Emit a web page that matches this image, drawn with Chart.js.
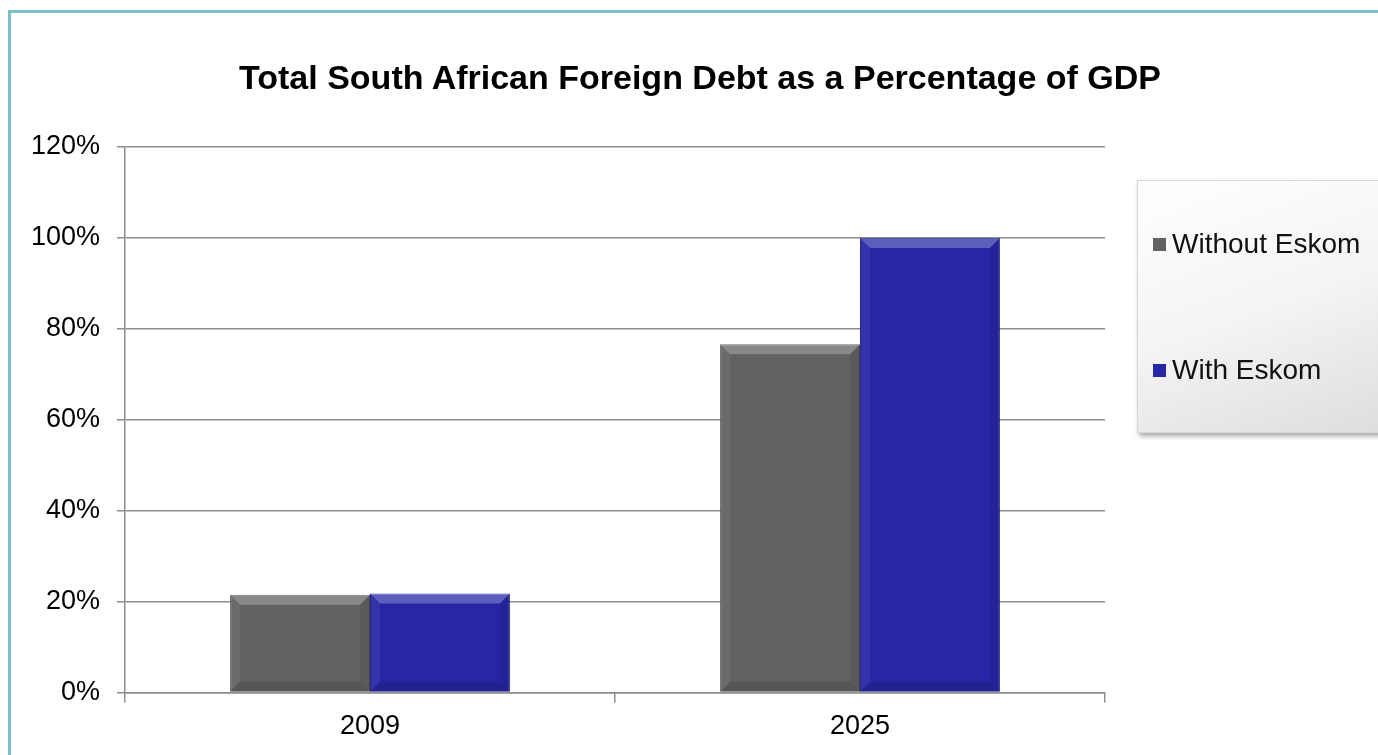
<!DOCTYPE html>
<html>
<head>
<meta charset="utf-8">
<script src="https://cdn.jsdelivr.net/npm/chart.js@4/dist/chart.umd.min.js"></script>
<style>
  html, body { margin: 0; padding: 0; overflow: hidden; background: #fff; }
  body { width: 1378px; height: 755px; position: relative; font-family: 'Liberation Sans', Arial, sans-serif; }
  #frame { position: absolute; left: 8px; top: 10px; width: 1400px; height: 800px; border-left: 3px solid #7dbfc6; border-top: 3px solid #7dbfc6; }
  #wrap { position: absolute; left: 0; top: 0; width: 1378px; height: 755px; }
  #title { position: absolute; left: 0; top: 57px; width: 1400px; text-align: center; font-weight: bold; font-size: 34px; line-height: 40px; color: #000; }
  #legend { position: absolute; left: 1137px; top: 180px; width: 270px; height: 251px;
    background: linear-gradient(160deg, #ffffff 0%, #f4f4f4 50%, #dcdcdc 100%);
    box-shadow: 2px 3px 5px rgba(0,0,0,0.35); border: 1px solid #d8d8d8; }
  .item { position: absolute; left: 15px; font-size: 28px; line-height: 32px; color: #111; display: flex; align-items: center; white-space: nowrap; }
  .item i { display: inline-block; width: 13px; height: 13px; margin-right: 6px; }
</style>
</head>
<body>
<div id="frame"></div>
<div id="wrap"><canvas id="myChart" width="1378" height="755"></canvas></div>
<div id="title">Total South African Foreign Debt as a Percentage of GDP</div>
<div id="legend"></div>
<script>
const categories = ['2009', '2025']
const withoutEskom = [21.5, 76.6]
const withEskom = [21.8, 100]
const seriesNames = ['Without Eskom', 'With Eskom']
const seriesColors = ['#626262', '#2727a6']
const yTicks = [0, 20, 40, 60, 80, 100, 120]

const tickFont = { family: "'Liberation Sans', Arial, sans-serif", size: 27 }

// simple bevel look like the office chart
const bevel = {
  id: 'bevel',
  afterDatasetsDraw: chart => {
    const ctx = chart.ctx
    chart.data.datasets.forEach((ds, i) => {
      chart.getDatasetMeta(i).data.forEach(bar => {
        const l = bar.x - bar.width / 2
        const r = bar.x + bar.width / 2
        const t = bar.y
        const b = bar.base
        const d = Math.min(10, (b - t) / 3)
        ctx.save()
        ctx.fillStyle = 'rgba(255,255,255,0.25)'
        ctx.beginPath()
        ctx.moveTo(l, t); ctx.lineTo(r, t); ctx.lineTo(r - d, t + d); ctx.lineTo(l + d, t + d)
        ctx.fill()
        ctx.fillStyle = 'rgba(255,255,255,0.06)'
        ctx.beginPath()
        ctx.moveTo(l, t); ctx.lineTo(l + d, t + d); ctx.lineTo(l + d, b - d); ctx.lineTo(l, b)
        ctx.fill()
        ctx.fillStyle = 'rgba(0,0,0,0.08)'
        ctx.beginPath()
        ctx.moveTo(r, t); ctx.lineTo(r - d, t + d); ctx.lineTo(r - d, b - d); ctx.lineTo(r, b)
        ctx.fill()
        ctx.fillStyle = 'rgba(0,0,0,0.12)'
        ctx.beginPath()
        ctx.moveTo(l, b); ctx.lineTo(l + d, b - d); ctx.lineTo(r - d, b - d); ctx.lineTo(r, b)
        ctx.fill()
        ctx.restore()
      })
    })
  },
}

const ctx = document.getElementById('myChart')

const myChart = new Chart(ctx, {
  type: 'bar',
  data: {
    labels: categories,
    datasets: [
      { label: seriesNames[0], data: withoutEskom, backgroundColor: seriesColors[0], borderColor: '#4a4a4a', borderWidth: 1 },
      { label: seriesNames[1], data: withEskom, backgroundColor: seriesColors[1], borderColor: '#1c1c80', borderWidth: 1 },
    ],
  },
  plugins: [bevel],
  options: {
    animation: false,
    responsive: false,
    categoryPercentage: 0.571,
    barPercentage: 1,
    layout: { padding: { top: 147, right: 273, left: 0, bottom: 0 } },
    plugins: {
      legend: { display: false },
      title: { display: false },
      tooltip: { enabled: false },
    },
    scales: {
      x: {
        afterFit: scale => { scale.height = 62.5 },
        grid: { display: true, offset: true, color: '#8c8c8c', tickLength: 10, drawOnChartArea: false, lineWidth: 1.5 },
        border: { color: '#8c8c8c', width: 1.5 },
        ticks: { color: '#000', font: tickFont, padding: 8 },
      },
      y: {
        min: 0,
        max: 120,
        afterFit: scale => { scale.width = 125 },
        afterBuildTicks: scale => { scale.ticks = yTicks.map(v => ({ value: v })) },
        grid: { color: '#8c8c8c', tickLength: 8, lineWidth: 1.5 },
        border: { color: '#8c8c8c', width: 1.5 },
        ticks: { color: '#000', font: tickFont, padding: 17, callback: v => v + '%' },
      },
    },
  },
})

// legend built from the chart's datasets
const legendEl = document.getElementById('legend')
const itemTops = [47, 173]
myChart.data.datasets.forEach((ds, i) => {
  const item = document.createElement('div')
  item.className = 'item'
  item.style.top = itemTops[i] + 'px'
  item.innerHTML = '<i style="background:' + ds.backgroundColor + '"></i>' + ds.label
  legendEl.appendChild(item)
})
</script>
</body>
</html>
